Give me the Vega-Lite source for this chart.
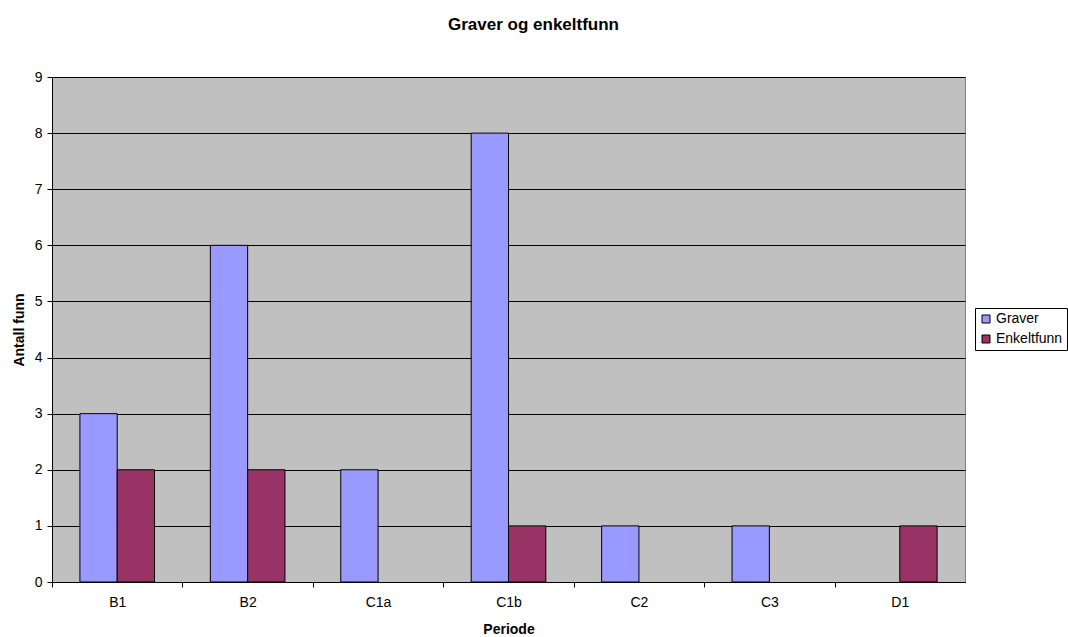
{
  "$schema": "https://vega.github.io/schema/vega-lite/v6.json",
  "autosize": "none",
  "width": 913,
  "height": 505,
  "padding": {"left": 52, "top": 77, "right": 103, "bottom": 55},
  "background": "white",
  "config": {
    "font": "Liberation Sans",
    "view": {"fill": "#C0C0C0", "stroke": "#808080", "strokeWidth": 1}
  },
  "title": {
    "text": "Graver og enkeltfunn",
    "fontSize": 17,
    "fontWeight": "bold",
    "color": "black",
    "anchor": "middle",
    "dx": 25,
    "offset": 36
  },
  "data": {
    "values": [
      {"Periode": "B1", "Serie": "Graver", "Antall": 3},
      {"Periode": "B1", "Serie": "Enkeltfunn", "Antall": 2},
      {"Periode": "B2", "Serie": "Graver", "Antall": 6},
      {"Periode": "B2", "Serie": "Enkeltfunn", "Antall": 2},
      {"Periode": "C1a", "Serie": "Graver", "Antall": 2},
      {"Periode": "C1b", "Serie": "Graver", "Antall": 8},
      {"Periode": "C1b", "Serie": "Enkeltfunn", "Antall": 1},
      {"Periode": "C2", "Serie": "Graver", "Antall": 1},
      {"Periode": "C3", "Serie": "Graver", "Antall": 1},
      {"Periode": "D1", "Serie": "Enkeltfunn", "Antall": 1}
    ]
  },
  "mark": {"type": "bar", "stroke": "black", "strokeWidth": 1},
  "encoding": {
    "x": {
      "field": "Periode",
      "type": "nominal",
      "sort": ["B1", "B2", "C1a", "C1b", "C2", "C3", "D1"],
      "scale": {"domain": ["B1", "B2", "C1a", "C1b", "C2", "C3", "D1"], "paddingInner": 0.428, "paddingOuter": 0.214},
      "axis": {
        "title": "Periode",
        "titleFontSize": 14,
        "titleFontWeight": "bold",
        "titleColor": "black",
        "titlePadding": 13,
        "labelAngle": 0,
        "labelFontSize": 14,
        "labelColor": "black",
        "labelPadding": 8,
        "tickOffset": -65.2,
        "labelOffset": 65.2,
        "tickSize": 5,
        "tickColor": "black",
        "domainColor": "black",
        "grid": false
      }
    },
    "xOffset": {
      "field": "Serie",
      "type": "nominal",
      "sort": ["Graver", "Enkeltfunn"],
      "scale": {"domain": ["Graver", "Enkeltfunn"], "paddingInner": 0, "paddingOuter": 0}
    },
    "y": {
      "field": "Antall",
      "type": "quantitative",
      "scale": {"domain": [0, 9], "nice": false},
      "axis": {
        "title": "Antall funn",
        "titleFontSize": 14,
        "titleFontWeight": "bold",
        "titleColor": "black",
        "titlePadding": 8,
        "values": [0, 1, 2, 3, 4, 5, 6, 7, 8, 9],
        "labelFontSize": 14,
        "labelColor": "black",
        "labelPadding": 5,
        "tickSize": 5,
        "tickColor": "black",
        "domainColor": "black",
        "grid": true,
        "gridColor": "black",
        "gridWidth": 1,
        "gridOpacity": 1
      }
    },
    "color": {
      "field": "Serie",
      "type": "nominal",
      "sort": ["Graver", "Enkeltfunn"],
      "scale": {"domain": ["Graver", "Enkeltfunn"], "range": ["#9999FF", "#993366"]},
      "legend": {
        "title": null,
        "orient": "none",
        "legendX": 923,
        "legendY": 231,
        "strokeColor": "black",
        "fillColor": "white",
        "padding": 4,
        "symbolType": "square",
        "symbolSize": 64,
        "symbolStrokeColor": "black",
        "symbolStrokeWidth": 1,
        "symbolOpacity": 1,
        "labelFontSize": 14,
        "labelColor": "black",
        "rowPadding": 6,
        "labelOffset": 3
      }
    }
  }
}
